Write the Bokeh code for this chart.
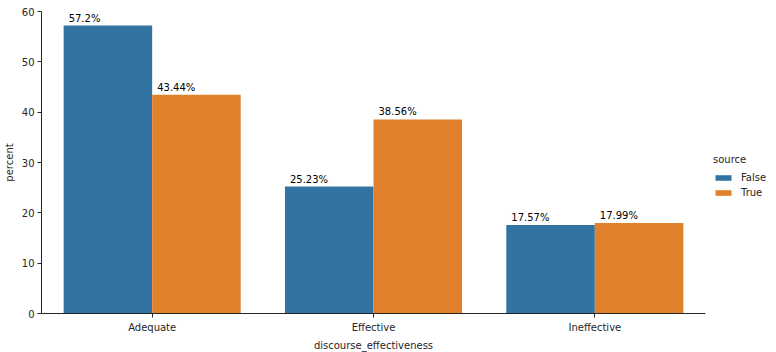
from bokeh.plotting import figure
from bokeh.models import ColumnDataSource, FactorRange, Range1d, Legend, LegendItem, FixedTicker
from bokeh.transform import dodge
from bokeh.core.properties import value
from bokeh.embed import file_html
from bokeh.resources import INLINE

categories = ["Adequate", "Effective", "Ineffective"]
false_vals = [57.2, 25.23, 17.57]
true_vals = [43.44, 38.56, 17.99]
false_labels = ["57.2%", "25.23%", "17.57%"]
true_labels = ["43.44%", "38.56%", "17.99%"]
y_ticks = [0, 10, 20, 30, 40, 50, 60]

FONT = "DejaVu Sans"
BLUE = "#3274a1"
ORANGE = "#e1812c"

src = ColumnDataSource(dict(cat=categories, f=false_vals, t=true_vals,
                            fl=false_labels, tl=true_labels))

p = figure(frame_width=664, frame_height=302, x_range=FactorRange(*categories, range_padding=0),
           y_range=Range1d(0, 60), output_backend="svg", toolbar_location=None,
           min_border_left=41, min_border_top=11, min_border_bottom=39, min_border_right=0)

rf = p.vbar(x=dodge("cat", -0.2, range=p.x_range), top="f", width=0.4, source=src,
            fill_color=BLUE, line_color=None)
rt = p.vbar(x=dodge("cat", 0.2, range=p.x_range), top="t", width=0.4, source=src,
            fill_color=ORANGE, line_color=None)

p.text(x=dodge("cat", -0.4, range=p.x_range), y="f", text="fl", source=src,
       x_offset=5, y_offset=-2, text_baseline="bottom", text_align="left",
       text_font=value(FONT), text_font_size="10px", text_color="black")
p.text(x=dodge("cat", 0.0, range=p.x_range), y="t", text="tl", source=src,
       x_offset=5, y_offset=-2, text_baseline="bottom", text_align="left",
       text_font=value(FONT), text_font_size="10px", text_color="black")

p.outline_line_color = None
p.xgrid.grid_line_color = None
p.ygrid.grid_line_color = None
p.background_fill_color = "white"
p.border_fill_color = "white"

p.yaxis.ticker = FixedTicker(ticks=y_ticks)
for ax in (p.xaxis, p.yaxis):
    ax.axis_line_color = "#262626"
    ax.major_tick_line_color = "#262626"
    ax.major_tick_out = 4
    ax.major_tick_in = 0
    ax.minor_tick_line_color = None
    ax.major_label_text_font = FONT
    ax.major_label_text_font_size = "10px"
    ax.major_label_text_color = "#262626"
    ax.axis_label_text_font = FONT
    ax.axis_label_text_font_size = "10px"
    ax.axis_label_text_font_style = "normal"
    ax.axis_label_text_color = "#262626"
p.xaxis.axis_label = "discourse_effectiveness"
p.yaxis.axis_label = "percent"
p.xaxis.major_label_standoff = 4
p.yaxis.major_label_standoff = 3
p.xaxis.axis_label_standoff = 4
p.yaxis.axis_label_standoff = 4

legend = Legend(items=[LegendItem(label="False", renderers=[rf]),
                       LegendItem(label="True", renderers=[rt])],
                title="source", location=(8, 114), border_line_color=None,
                background_fill_alpha=0,
                title_text_font=FONT, title_text_font_size="10px", title_text_color="#262626",
                title_text_font_style="normal",
                label_text_font=FONT, label_text_font_size="10px", label_text_color="#262626",
                glyph_width=20, glyph_height=7, label_height=14, spacing=1,
                label_standoff=8, padding=4, margin=0, title_standoff=5)
p.add_layout(legend, "right")

open("out.html", "w").write(file_html(p, INLINE))
